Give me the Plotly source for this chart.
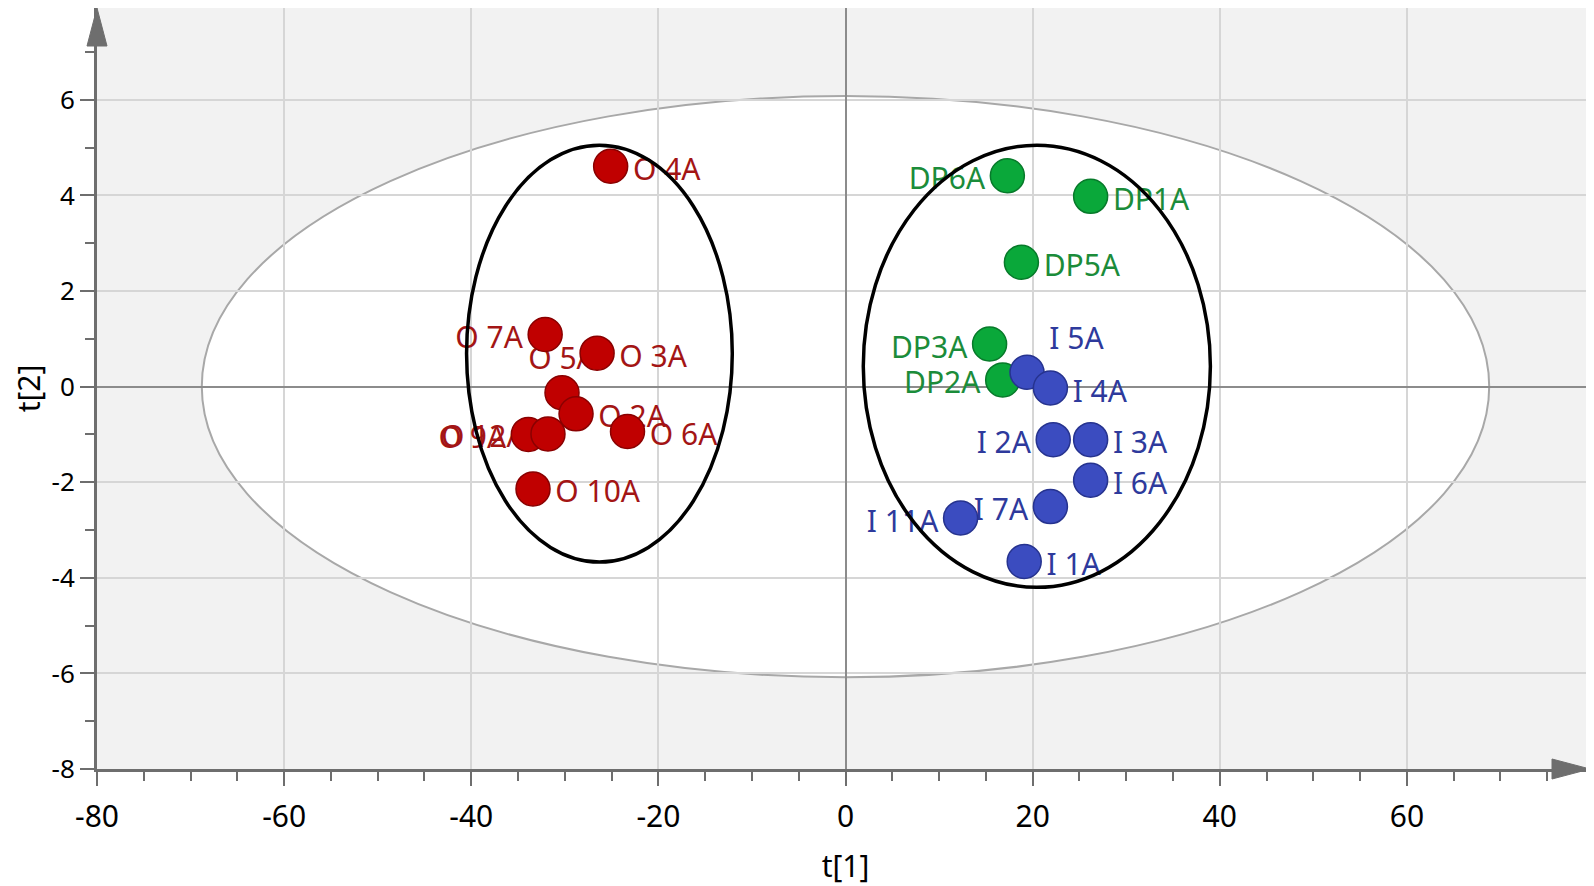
import plotly.graph_objects as go

# ---------------- data ----------------
red_labels = ["O 4A", "O 7A", "O 5A", "O 3A", "O 2A", "O 6A", "O 9A", "O 12A", "O 10A"]
red_x = [-25.1, -32.1, -30.3, -26.55, -28.8, -23.3, -33.9, -31.8, -33.4]
red_y = [4.61, 1.09, -0.13, 0.70, -0.57, -0.94, -1.00, -0.99, -2.14]
red_pos = ["middle right", "middle left", "top center", "middle right", "middle right",
           "middle right", "middle left", "middle left", "middle right"]

green_labels = ["DP6A", "DP1A", "DP5A", "DP3A", "DP2A"]
green_x = [17.3, 26.2, 18.8, 15.4, 16.8]
green_y = [4.41, 3.98, 2.60, 0.89, 0.14]
green_pos = ["middle left", "middle right", "middle right", "middle left", "middle left"]

blue_labels = ["I 5A", "I 4A", "I 2A", "I 3A", "I 6A", "I 7A", "I 11A", "I 1A"]
blue_x = [19.4, 21.9, 22.2, 26.2, 26.2, 21.9, 12.3, 19.1]
blue_y = [0.30, -0.03, -1.11, -1.11, -1.96, -2.51, -2.75, -3.66]
blue_pos = ["top right", "middle right", "middle left", "middle right", "middle right",
            "middle left", "middle left", "middle right"]

# Hotelling T2 ellipse (semi-axes) and group ellipses (x0, x1, y0, y1)
t2_a, t2_b = 68.8, 6.08
left_group = (-40.5, -12.1, -3.67, 5.05)
right_group = (1.9, 39.0, -4.20, 5.05)

x_ticks = [-80, -60, -40, -20, 0, 20, 40, 60]
y_ticks = [-8, -6, -4, -2, 0, 2, 4, 6]

# ---------------- style ----------------
FONT = "Noto Sans"
groups = [
    (red_x, red_y, red_labels, red_pos, "#c00000", "#8a0000", "#a31515"),
    (green_x, green_y, green_labels, green_pos, "#0aa83a", "#077a2a", "#1b8c3a"),
    (blue_x, blue_y, blue_labels, blue_pos, "#3b4cc0", "#26338f", "#2e3a9c"),
]
MS = 34
AX = "#6e6e6e"

# page has an 8px body margin -> figure sized to fit the window
W, H = 1586, 878
L, R, T, B = 89, 0, 0, 117
pw, ph = W - L - R, H - T - B
PX_PER_UNIT = 47.8
Y_TOP = -8 + ph / PX_PER_UNIT
LABEL_DROP = 6 / PX_PER_UNIT   # labels sit a few pixels below marker centres

fig = go.Figure()

# labels first, on a hidden, slightly shifted axis (markers drawn on top of them)
for xs, ys, labs, pos, fill, edge, tcol in groups:
    fig.add_trace(go.Scatter(
        x=xs, y=ys, text=labs, mode="markers+text", textposition=pos,
        marker=dict(size=MS, color="rgba(0,0,0,0)"),
        textfont=dict(family=FONT, size=30, color=tcol),
        hoverinfo="skip", showlegend=False, cliponaxis=False, yaxis="y"))

for xs, ys, labs, pos, fill, edge, tcol in groups:
    fig.add_trace(go.Scatter(
        x=xs, y=ys, mode="markers", text=labs,
        marker=dict(size=MS, color=fill, line=dict(color=edge, width=1.5)),
        showlegend=False, cliponaxis=False, yaxis="y2"))

# ellipses
fig.add_shape(type="circle", xref="x", yref="y2", x0=-t2_a, x1=t2_a, y0=-t2_b, y1=t2_b,
              fillcolor="white", line=dict(color="#a8a8a8", width=2), layer="below")
for (x0, x1, y0, y1) in (left_group, right_group):
    fig.add_shape(type="circle", xref="x", yref="y2", x0=x0, x1=x1, y0=y0, y1=y1,
                  line=dict(color="black", width=3.5), layer="above")

# axis arrow heads
ax_len, ax_half = 38 / ph, 10 / pw
fig.add_shape(type="path", xref="x domain", yref="y domain",
              path=f"M {-ax_half} {1 - ax_len} L {ax_half} {1 - ax_len} L 0 1 Z",
              fillcolor=AX, line=dict(color=AX, width=1), layer="above")
hx_len, hx_half = 38 / pw, 10 / ph
tip = 1 - 4 / pw
fig.add_shape(type="path", xref="x domain", yref="y domain",
              path=f"M {tip - hx_len} {-hx_half} L {tip - hx_len} {hx_half} L {tip} 0 Z",
              fillcolor=AX, line=dict(color=AX, width=1), layer="above")

tick_common = dict(ticks="outside", ticklen=14, tickwidth=2, tickcolor=AX,
                   showline=True, linecolor=AX, linewidth=3, mirror=False,
                   showgrid=True, gridcolor="#d6d6d6", gridwidth=1.5,
                   zeroline=True, zerolinecolor="#8c8c8c", zerolinewidth=1.5,
                   automargin=False)

fig.update_layout(
    xaxis=dict(range=[-80, 80], tickvals=x_ticks, ticktext=[str(v) for v in x_ticks],
               ticklabelstandoff=5,
               tickfont=dict(family=FONT, size=30, color="black"),
               minor=dict(dtick=5, tick0=0, ticks="outside", ticklen=9, tickwidth=2,
                          tickcolor=AX, showgrid=False),
               title=dict(text="t[1]", font=dict(family=FONT, size=30, color="black"),
                          standoff=24),
               **tick_common),
    yaxis=dict(range=[-8 + LABEL_DROP, Y_TOP + LABEL_DROP], visible=False,
               showgrid=False, zeroline=False, automargin=False),
    yaxis2=dict(overlaying="y", side="left", anchor="x",
                range=[-8, Y_TOP], tickvals=y_ticks, ticktext=[str(v) for v in y_ticks],
                tickfont=dict(family=FONT, size=26, color="black"),
                minor=dict(dtick=1, tick0=0, ticks="outside", ticklen=9, tickwidth=2,
                           tickcolor=AX, showgrid=False),
                title=dict(text="t[2]", font=dict(family=FONT, size=30, color="black"),
                           standoff=28),
                **tick_common),
    width=W, height=H,
    margin=dict(l=L, r=R, t=T, b=B),
    plot_bgcolor="#f2f2f2", paper_bgcolor="white",
    showlegend=False,
)

fig.write_html("out.html")
